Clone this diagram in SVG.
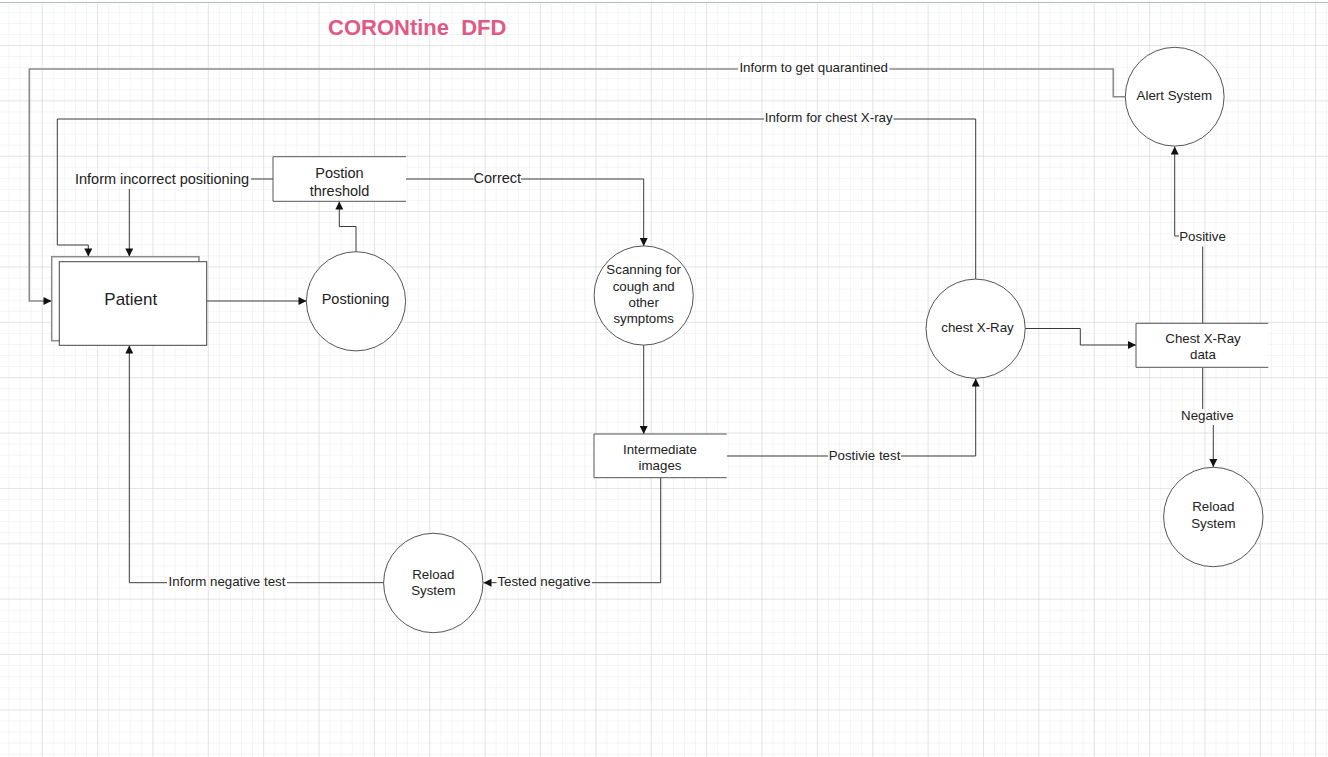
<svg xmlns="http://www.w3.org/2000/svg" width="1328" height="757" viewBox="0 0 1328 757">
<style>
  .node { fill: #ffffff; stroke: #555555; stroke-width: 1; }
  .box { fill: #ffffff; stroke: none; }
  .edge { fill: none; stroke: #555555; stroke-width: 1; }
  .conn { fill: none; stroke: #3a3a3a; stroke-width: 1; }
  .conn2 { fill: none; stroke: #8a8a8a; stroke-width: 1.6; }
  .t { font-family: "Liberation Sans", Arial, sans-serif; fill: #222222; text-anchor: middle; }
  .s13 { font-size: 13.3px; }
  .s14 { font-size: 14.5px; }
  .title { font-family: "Liberation Sans", Arial, sans-serif; font-size: 22px; font-weight: bold; fill: #DF5985; }
</style>
<defs>
  <pattern id="minor" patternUnits="userSpaceOnUse" x="41.7" y="45" width="11.074" height="11.074">
    <path d="M0 0 H11.074 M0 0 V11.074" fill="none" stroke="#eaeaea" stroke-width="1"/>
  </pattern>
  <pattern id="major" patternUnits="userSpaceOnUse" x="41.7" y="45" width="55.37" height="55.37">
    <path d="M0 0 H55.37 M0 0 V55.37" fill="none" stroke="#d6d6d6" stroke-width="1"/>
  </pattern>
  <marker id="arr" viewBox="0 0 10 10" refX="10" refY="5" markerWidth="10" markerHeight="8" markerUnits="userSpaceOnUse" orient="auto">
    <path d="M0 0 L10 5 L0 10 Z" fill="#111111"/>
  </marker>
</defs>

<rect x="0" y="0" width="1328" height="757" fill="#ffffff"/>
<rect x="0" y="3" width="1328" height="754" fill="url(#minor)"/>
<rect x="0" y="3" width="1328" height="754" fill="url(#major)"/>
<line x1="0" y1="2.5" x2="1328" y2="2.5" stroke="#b3bac8" stroke-width="1.2"/>

<text class="title" x="328" y="35" xml:space="preserve">CORONtine  DFD</text>

<g id="connectors">
  <!-- Patient -> Positioning -->
  <path class="conn" d="M206.7 301 H306.5" marker-end="url(#arr)"/>
  <!-- Positioning -> Postion threshold -->
  <path class="conn" d="M356 251.7 V226.5 H339.3 V201.5" marker-end="url(#arr)"/>
  <!-- Postion threshold -> Patient : Inform incorrect positioning -->
  <path class="conn" d="M273 179 H251"/>
  <path class="conn" d="M129.3 189 V256.5" marker-end="url(#arr)"/>
  <text class="t s14" x="162" y="183.5">Inform incorrect positioning</text>
  <!-- Postion threshold -> Scanning : Correct -->
  <path class="conn" d="M406 179 H473.5"/>
  <path class="conn" d="M521 179 H643.7 V246" marker-end="url(#arr)"/>
  <text class="t s14" x="497.3" y="183.3">Correct</text>
  <!-- Scanning -> Intermediate images -->
  <path class="conn" d="M643.7 345 V434" marker-end="url(#arr)"/>
  <!-- Intermediate -> chest X-Ray : Postivie test -->
  <path class="conn" d="M726.7 456 H828"/>
  <path class="conn" d="M901 456 H975.7 V378.5" marker-end="url(#arr)"/>
  <text class="t s13" x="864.5" y="459.5">Postivie test</text>
  <!-- chest X-Ray -> Chest X-Ray data -->
  <path class="conn" d="M1025 328.5 H1080.3 V345 H1136" marker-end="url(#arr)"/>
  <!-- data -> Alert : Positive -->
  <path class="conn" d="M1202.7 323.3 V246.5"/>
  <path class="conn" d="M1179 236 H1174.7 V146.5" marker-end="url(#arr)"/>
  <text class="t s13" x="1202.5" y="240.8">Positive</text>
  <!-- data -> Reload (right) : Negative -->
  <path class="conn" d="M1202.7 367.3 V409"/>
  <path class="conn" d="M1213.3 425 V467" marker-end="url(#arr)"/>
  <text class="t s13" x="1207.3" y="420">Negative</text>
  <!-- Intermediate -> Reload (bottom) : Tested negative -->
  <path class="conn" d="M660.7 477.7 V582.7 H592"/>
  <path class="conn" d="M496.5 582.7 H483.5" marker-end="url(#arr)"/>
  <text class="t s13" x="544" y="586.3">Tested negative</text>
  <!-- Reload (bottom) -> Patient : Inform negative test -->
  <path class="conn" d="M383.3 582.7 H287"/>
  <path class="conn" d="M167 582.7 H129.3 V345.5" marker-end="url(#arr)"/>
  <text class="t s13" x="227" y="586.3">Inform negative test</text>
  <!-- chest X-Ray -> Patient : Inform for chest X-ray -->
  <path class="conn" d="M975.7 279 V119 H893.5"/>
  <path class="conn" d="M764 119 H57.3 V245 H88.3 V256.5" marker-end="url(#arr)"/>
  <text class="t s13" x="828.7" y="122">Inform for chest X-ray</text>
  <!-- Alert -> Patient : Inform to get quarantined -->
  <path class="conn2" d="M1125.3 96.7 H1113.3 V69 H889.5"/>
  <path class="conn2" d="M738 69 H29.3 V301 H43"/>
  <path class="conn" d="M43 301 H51.5" marker-end="url(#arr)"/>
  <text class="t s13" x="813.7" y="71.7">Inform to get quarantined</text>
</g>

<g id="patient">
  <rect x="51.7" y="256.7" width="147.3" height="84" fill="#ffffff" stroke="#8a8a8a" stroke-width="1.5"/>
  <rect x="59.3" y="261.7" width="147.4" height="83.6" fill="#ffffff" stroke="#444444" stroke-width="1"/>
  <text class="t" style="font-size:17px" x="130.8" y="305">Patient</text>
</g>

<g id="positioning">
  <circle class="node" cx="356" cy="301.3" r="49.6"/>
  <text class="t s14" x="355.5" y="304">Postioning</text>
</g>

<g id="position-threshold">
  <rect class="box" x="273" y="156.7" width="133" height="44.6"/>
  <path class="edge" d="M406 156.7 H273 V201.3 H406"/>
  <text class="t s14" x="339.5" y="178">Postion</text>
  <text class="t s14" x="339.5" y="196">threshold</text>
</g>

<g id="scanning">
  <circle class="node" cx="643.7" cy="295.5" r="49.6"/>
  <text class="t s13" x="643.7" y="274">Scanning for</text>
  <text class="t s13" x="643.7" y="290.5">cough and</text>
  <text class="t s13" x="643.7" y="307">other</text>
  <text class="t s13" x="643.7" y="323.3">symptoms</text>
</g>

<g id="intermediate-images">
  <rect class="box" x="594" y="434" width="132.7" height="43.7"/>
  <path class="edge" d="M726.7 434 H594 V477.7 H726.7"/>
  <text class="t s13" x="660" y="454">Intermediate</text>
  <text class="t s13" x="660" y="470">images</text>
</g>

<g id="chest-xray">
  <circle class="node" cx="975.6" cy="328.7" r="49.6"/>
  <text class="t s13" x="977.5" y="331.7">chest X-Ray</text>
</g>

<g id="alert-system">
  <circle class="node" cx="1174.7" cy="96.7" r="49.4"/>
  <text class="t s13" x="1174.3" y="99.7">Alert System</text>
</g>

<g id="chest-xray-data">
  <rect class="box" x="1136" y="323.3" width="132.3" height="44"/>
  <path class="edge" d="M1268.3 323.3 H1136 V367.3 H1268.3"/>
  <text class="t s13" x="1203" y="343">Chest X-Ray</text>
  <text class="t s13" x="1203" y="359">data</text>
</g>

<g id="reload-system-right">
  <circle class="node" cx="1213.3" cy="517" r="49.7"/>
  <text class="t s13" x="1213.3" y="511.3">Reload</text>
  <text class="t s13" x="1213.3" y="527.8">System</text>
</g>

<g id="reload-system-bottom">
  <circle class="node" cx="433.3" cy="583" r="49.7"/>
  <text class="t s13" x="433.3" y="579">Reload</text>
  <text class="t s13" x="433.3" y="594.7">System</text>
</g>
</svg>
